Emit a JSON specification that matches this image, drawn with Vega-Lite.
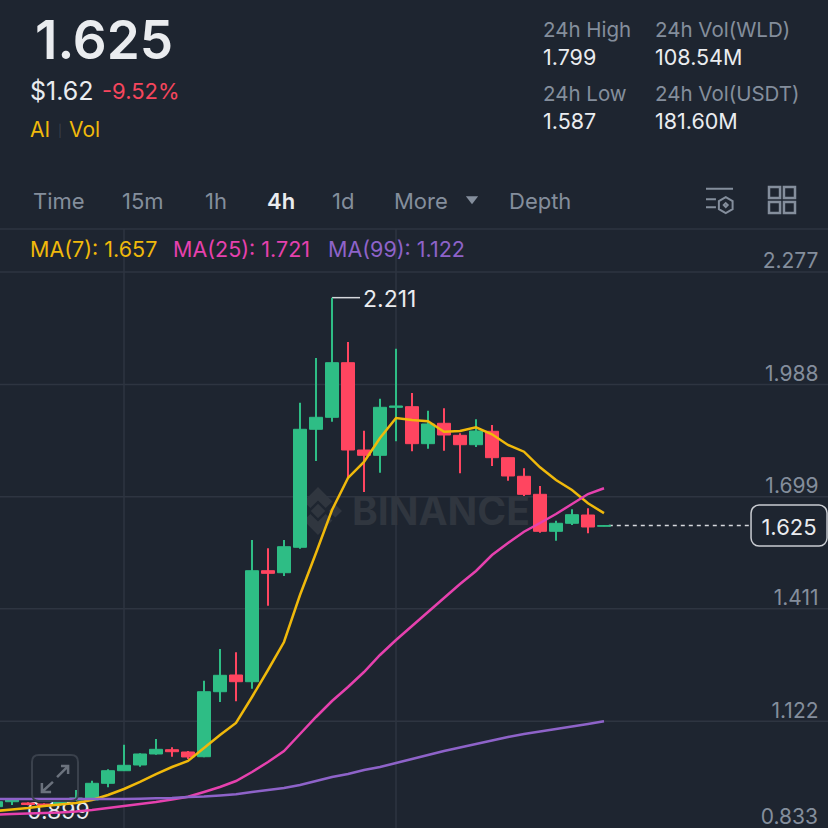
{
  "$schema": "https://vega.github.io/schema/vega-lite/v6.json",
  "width": 828,
  "height": 828,
  "autosize": "none",
  "padding": 0,
  "background": "#1E2530",
  "config": {"view": {"stroke": null}, "font": "Inter", "text": {"font": "Inter", "align": "left", "baseline": "middle", "dy": 2}},
  "resolve": {"axis": {"y": "independent"}},
  "datasets": {
    "candles": [
      {"n":0,"open":0.9023,"close":0.9151,"high":0.916,"low":0.900},
      {"n":1,"open":0.9151,"close":0.9195,"high":0.921,"low":0.9067},
      {"n":2,"open":0.9118,"close":0.9079,"high":0.914,"low":0.906},
      {"n":3,"open":0.9092,"close":0.9041,"high":0.911,"low":0.902},
      {"n":4,"open":0.9092,"close":0.9144,"high":0.918,"low":0.905},
      {"n":5,"open":0.9195,"close":0.9247,"high":0.9452,"low":0.917},
      {"n":6,"open":0.9195,"close":0.9624,"high":0.9691,"low":0.918},
      {"n":7,"open":0.9624,"close":0.9948,"high":0.9984,"low":0.9522},
      {"n":8,"open":0.9948,"close":1.0087,"high":1.0617,"low":0.994},
      {"n":9,"open":1.0095,"close":1.0378,"high":1.0396,"low":1.0051},
      {"n":10,"open":1.0378,"close":1.0498,"high":1.0763,"low":1.036},
      {"n":11,"open":1.0488,"close":1.0437,"high":1.055,"low":1.0308},
      {"n":12,"open":1.0429,"close":1.0301,"high":1.0455,"low":1.025},
      {"n":13,"open":1.0308,"close":1.1979,"high":1.2262,"low":1.0293},
      {"n":14,"open":1.1979,"close":1.2401,"high":1.3077,"low":1.1715},
      {"n":15,"open":1.2409,"close":1.2236,"high":1.2992,"low":1.1733},
      {"n":16,"open":1.2236,"close":1.509,"high":1.588,"low":1.2056},
      {"n":17,"open":1.509,"close":1.5023,"high":1.5666,"low":1.419},
      {"n":18,"open":1.5039,"close":1.5707,"high":1.588,"low":1.4954},
      {"n":19,"open":1.5692,"close":1.8726,"high":1.941,"low":1.5656},
      {"n":20,"open":1.8726,"close":1.9034,"high":2.0559,"low":1.7911},
      {"n":21,"open":1.9034,"close":2.0438,"high":2.211,"low":1.8921},
      {"n":22,"open":2.0438,"close":1.8193,"high":2.097,"low":1.7466},
      {"n":23,"open":1.8193,"close":1.8057,"high":1.869,"low":1.7114},
      {"n":24,"open":1.8057,"close":1.9291,"high":1.9513,"low":1.761},
      {"n":25,"open":1.9291,"close":1.9325,"high":2.0798,"low":1.8417},
      {"n":26,"open":1.9307,"close":1.8356,"high":1.9659,"low":1.816},
      {"n":27,"open":1.8356,"close":1.8862,"high":1.9204,"low":1.8227},
      {"n":28,"open":1.888,"close":1.8579,"high":1.9266,"low":1.8175},
      {"n":29,"open":1.8571,"close":1.833,"high":1.8623,"low":1.7594},
      {"n":30,"open":1.833,"close":1.8682,"high":1.8983,"low":1.8271},
      {"n":31,"open":1.8674,"close":1.7996,"high":1.8836,"low":1.7782},
      {"n":32,"open":1.7996,"close":1.7525,"high":1.7996,"low":1.7404},
      {"n":33,"open":1.7517,"close":1.7054,"high":1.7723,"low":1.7011},
      {"n":34,"open":1.7054,"close":1.6103,"high":1.7268,"low":1.6067},
      {"n":35,"open":1.6103,"close":1.6309,"high":1.6376,"low":1.5862},
      {"n":36,"open":1.6309,"close":1.653,"high":1.6669,"low":1.6265},
      {"n":37,"open":1.6522,"close":1.6214,"high":1.6695,"low":1.6052},
      {"n":38,"open":1.6232,"close":1.625,"high":1.626,"low":1.623}
    ],
    "averages": [
      {"n":0,"ma":"MA7","price":0.8912},{"n":1,"ma":"MA7","price":0.8951},{"n":2,"ma":"MA7","price":0.8989},{"n":3,"ma":"MA7","price":0.9041},{"n":4,"ma":"MA7","price":0.9079},{"n":5,"ma":"MA7","price":0.9118},{"n":6,"ma":"MA7","price":0.9195},{"n":7,"ma":"MA7","price":0.9324},{"n":8,"ma":"MA7","price":0.9478},{"n":9,"ma":"MA7","price":0.9658},{"n":10,"ma":"MA7","price":0.9863},{"n":11,"ma":"MA7","price":1.0043},{"n":12,"ma":"MA7","price":1.0198},{"n":13,"ma":"MA7","price":1.0532},{"n":14,"ma":"MA7","price":1.0866},{"n":15,"ma":"MA7","price":1.1175},{"n":16,"ma":"MA7","price":1.1843},{"n":17,"ma":"MA7","price":1.2537},{"n":18,"ma":"MA7","price":1.3257},{"n":19,"ma":"MA7","price":1.4466},{"n":20,"ma":"MA7","price":1.5545},{"n":21,"ma":"MA7","price":1.6651},{"n":22,"ma":"MA7","price":1.7474},{"n":23,"ma":"MA7","price":1.7885},{"n":24,"ma":"MA7","price":1.8502},{"n":25,"ma":"MA7","price":1.9016},{"n":26,"ma":"MA7","price":1.8965},{"n":27,"ma":"MA7","price":1.8931},{"n":28,"ma":"MA7","price":1.8664},{"n":29,"ma":"MA7","price":1.8682},{"n":30,"ma":"MA7","price":1.8777},{"n":31,"ma":"MA7","price":1.8597},{"n":32,"ma":"MA7","price":1.8322},{"n":33,"ma":"MA7","price":1.815},{"n":34,"ma":"MA7","price":1.7749},{"n":35,"ma":"MA7","price":1.7422},{"n":36,"ma":"MA7","price":1.7165},{"n":37,"ma":"MA7","price":1.6823},{"n":38,"ma":"MA7","price":1.657},
      {"n":0,"ma":"MA25","price":0.8822},{"n":1,"ma":"MA25","price":0.8835},{"n":2,"ma":"MA25","price":0.8848},{"n":3,"ma":"MA25","price":0.8861},{"n":4,"ma":"MA25","price":0.8873},{"n":5,"ma":"MA25","price":0.8899},{"n":6,"ma":"MA25","price":0.8938},{"n":7,"ma":"MA25","price":0.8989},{"n":8,"ma":"MA25","price":0.9041},{"n":9,"ma":"MA25","price":0.9092},{"n":10,"ma":"MA25","price":0.9144},{"n":11,"ma":"MA25","price":0.9208},{"n":12,"ma":"MA25","price":0.928},{"n":13,"ma":"MA25","price":0.9401},{"n":14,"ma":"MA25","price":0.9529},{"n":15,"ma":"MA25","price":0.9683},{"n":16,"ma":"MA25","price":0.9915},{"n":17,"ma":"MA25","price":1.0172},{"n":18,"ma":"MA25","price":1.0455},{"n":19,"ma":"MA25","price":1.0892},{"n":20,"ma":"MA25","price":1.1329},{"n":21,"ma":"MA25","price":1.174},{"n":22,"ma":"MA25","price":1.21},{"n":23,"ma":"MA25","price":1.2486},{"n":24,"ma":"MA25","price":1.2923},{"n":25,"ma":"MA25","price":1.3309},{"n":26,"ma":"MA25","price":1.3669},{"n":27,"ma":"MA25","price":1.4028},{"n":28,"ma":"MA25","price":1.4388},{"n":29,"ma":"MA25","price":1.4748},{"n":30,"ma":"MA25","price":1.5083},{"n":31,"ma":"MA25","price":1.5494},{"n":32,"ma":"MA25","price":1.5802},{"n":33,"ma":"MA25","price":1.6093},{"n":34,"ma":"MA25","price":1.6317},{"n":35,"ma":"MA25","price":1.6548},{"n":36,"ma":"MA25","price":1.6805},{"n":37,"ma":"MA25","price":1.7062},{"n":38,"ma":"MA25","price":1.721},
      {"n":0,"ma":"MA99","price":0.9221},{"n":1,"ma":"MA99","price":0.9221},{"n":2,"ma":"MA99","price":0.9221},{"n":3,"ma":"MA99","price":0.9221},{"n":4,"ma":"MA99","price":0.9221},{"n":5,"ma":"MA99","price":0.9221},{"n":6,"ma":"MA99","price":0.9221},{"n":7,"ma":"MA99","price":0.9221},{"n":8,"ma":"MA99","price":0.9221},{"n":9,"ma":"MA99","price":0.9229},{"n":10,"ma":"MA99","price":0.9239},{"n":11,"ma":"MA99","price":0.9247},{"n":12,"ma":"MA99","price":0.9273},{"n":13,"ma":"MA99","price":0.9286},{"n":14,"ma":"MA99","price":0.9312},{"n":15,"ma":"MA99","price":0.9342},{"n":16,"ma":"MA99","price":0.9401},{"n":17,"ma":"MA99","price":0.9452},{"n":18,"ma":"MA99","price":0.9503},{"n":19,"ma":"MA99","price":0.9581},{"n":20,"ma":"MA99","price":0.9683},{"n":21,"ma":"MA99","price":0.9786},{"n":22,"ma":"MA99","price":0.9863},{"n":23,"ma":"MA99","price":0.9966},{"n":24,"ma":"MA99","price":1.0043},{"n":25,"ma":"MA99","price":1.0146},{"n":26,"ma":"MA99","price":1.0249},{"n":27,"ma":"MA99","price":1.0352},{"n":28,"ma":"MA99","price":1.0455},{"n":29,"ma":"MA99","price":1.0545},{"n":30,"ma":"MA99","price":1.0635},{"n":31,"ma":"MA99","price":1.0725},{"n":32,"ma":"MA99","price":1.0815},{"n":33,"ma":"MA99","price":1.0892},{"n":34,"ma":"MA99","price":1.0956},{"n":35,"ma":"MA99","price":1.1021},{"n":36,"ma":"MA99","price":1.1085},{"n":37,"ma":"MA99","price":1.1149},{"n":38,"ma":"MA99","price":1.122}
    ],
    "labels": [
      {"kind":"headline","label":"1.625","n":2.4375,"price":2.8786},
      {"kind":"quote","label":"$1.62","n":2.125,"price":2.7449},
      {"kind":"change","label":"-9.52%","n":6.625,"price":2.7449},
      {"kind":"tag","label":"AI","n":2.125,"price":2.6446},
      {"kind":"tag","label":"Vol","n":4.5625,"price":2.6446},
      {"kind":"nav","label":"Time","n":2.3125,"price":2.4621},
      {"kind":"nav","label":"15m","n":7.875,"price":2.4621},
      {"kind":"nav","label":"1h","n":13.0625,"price":2.4621},
      {"kind":"navOn","label":"4h","n":16.9375,"price":2.4621},
      {"kind":"nav","label":"1d","n":21,"price":2.4621},
      {"kind":"nav","label":"More","n":24.875,"price":2.4621},
      {"kind":"nav","label":"Depth","n":32.0625,"price":2.4621},
      {"kind":"ma7","label":"MA(7): 1.657","n":2.125,"price":2.3361},
      {"kind":"ma25","label":"MA(25): 1.721","n":11.0625,"price":2.3361},
      {"kind":"ma99","label":"MA(99): 1.122","n":20.75,"price":2.3361},
      {"kind":"stat","label":"24h High","n":34.1875,"price":2.9017},
      {"kind":"stat","label":"24h Vol(WLD)","n":41.1875,"price":2.9017},
      {"kind":"stat","label":"24h Low","n":34.1875,"price":2.7372},
      {"kind":"stat","label":"24h Vol(USDT)","n":41.1875,"price":2.7372},
      {"kind":"value","label":"1.799","n":34.1875,"price":2.8298},
      {"kind":"value","label":"108.54M","n":41.1875,"price":2.8298},
      {"kind":"value","label":"1.587","n":34.1875,"price":2.6652},
      {"kind":"value","label":"181.60M","n":41.1875,"price":2.6652},
      {"kind":"extreme","label":"2.211","n":22.9375,"price":2.211},
      {"kind":"extreme","label":"0.899","n":1.9375,"price":0.8938}
    ]
  },
  "encoding": {
    "x": {"field": "n", "type": "quantitative", "scale": {"domain": [0.25, 52], "nice": false, "padding": 0}, "axis": null},
    "y": {"field": "price", "type": "quantitative", "scale": {"domain": [0.8475, 2.9763], "nice": false}, "axis": null}
  },
  "layer": [
    {
      "data": {"values": [{"price": 1.122, "n": 0.25, "n2": 52}, {"price": 1.411, "n": 0.25, "n2": 52}, {"price": 1.699, "n": 0.25, "n2": 52}, {"price": 1.988, "n": 0.25, "n2": 52}, {"price": 2.277, "n": 0.25, "n2": 52}, {"price": 2.3875, "n": 0.25, "n2": 52}]},
      "mark": {"type": "rule", "color": "#2E3541", "strokeWidth": 1.5},
      "encoding": {
        "x2": {"field": "n2"},
        "y": {
          "field": "price",
          "type": "quantitative",
          "axis": {
            "title": null,
            "orient": "right",
            "values": [1.122, 1.411, 1.699, 1.988, 2.277],
            "format": ".3f",
            "grid": false,
            "domain": false,
            "ticks": false,
            "labelAlign": "right",
            "labelBaseline": "alphabetic",
            "labelPadding": -10,
            "labelOffset": -4,
            "labelColor": "#848E9C",
            "labelFontSize": 21,
            "labelFont": "Inter",
            "labelOverlap": false,
            "labelBound": false,
            "labelFlush": false
          }
        }
      }
    },
    {
      "data": {"values": [{"n": 8, "price": 2.3875, "bottom": 0.8475}, {"n": 25, "price": 2.3875, "bottom": 0.8475}]},
      "mark": {"type": "rule", "color": "#2E3541", "strokeWidth": 1.5},
      "encoding": {"y2": {"field": "bottom"}}
    },
    {
      "data": {"values": [{"n": 20.125, "price": 1.6625}]},
      "mark": {"type": "point", "filled": true, "opacity": 1, "color": "#30363F", "size": 2304,
        "shape": "M0,-.3 L.3,0 L0,.3 L-.3,0 Z M.72,-.27 L1,0 L.72,.27 L.44,0 Z M-.72,-.27 L-.44,0 L-.72,.27 L-1,0 Z M0,-1 L.6,-.4 L.32,-.12 L0,-.44 L-.32,-.12 L-.6,-.4 Z M0,1 L-.6,.4 L-.32,.12 L0,.44 L.32,.12 L.6,.4 Z"}
    },
    {
      "data": {"values": [{"label": "BINANCE", "n": 22.25, "price": 1.6651}]},
      "mark": {"type": "text", "fontSize": 39, "fontWeight": 700, "color": "#30363F", "dy": 3},
      "encoding": {"text": {"field": "label"}}
    },
    {
      "data": {"values": [{"n": 38.3, "n2": 47.19, "price": 1.625}]},
      "mark": {"type": "rule", "color": "#D5D8DC", "strokeWidth": 1.5, "strokeDash": [4, 4]},
      "encoding": {"x2": {"field": "n2"}}
    },
    {
      "data": {"values": [{"n": 21, "n2": 22.75, "price": 2.211}]},
      "mark": {"type": "rule", "color": "#D5D8DC", "strokeWidth": 1.5},
      "encoding": {"x2": {"field": "n2"}}
    },
    {
      "data": {"name": "labels"},
      "transform": [{"filter": {"field": "label", "equal": "0.899"}}],
      "mark": {"type": "text", "fontSize": 23, "color": "#EAECEF"},
      "encoding": {"text": {"field": "label"}}
    },
    {
      "data": {"name": "candles"},
      "mark": {"type": "rule", "strokeWidth": 2},
      "encoding": {
        "y": {"field": "low", "type": "quantitative", "axis": null},
        "y2": {"field": "high"},
        "color": {"condition": {"test": "datum.close >= datum.open", "value": "#2EBD85"}, "value": "#FF4560"}
      }
    },
    {
      "data": {"name": "candles"},
      "mark": {"type": "bar", "size": 13, "strokeWidth": 1},
      "encoding": {
        "y": {"field": "open", "type": "quantitative", "axis": null},
        "y2": {"field": "close"},
        "color": {"condition": {"test": "datum.close >= datum.open", "value": "#2EBD85"}, "value": "#FF4560"},
        "stroke": {"condition": {"test": "datum.close >= datum.open", "value": "#2EBD85"}, "value": "#FF4560"}
      }
    },
    {
      "data": {"name": "averages"},
      "mark": {"type": "line", "strokeWidth": 2.5},
      "encoding": {
        "color": {"field": "ma", "type": "nominal", "legend": null,
          "scale": {"domain": ["MA7", "MA25", "MA99"], "range": ["#F0B90B", "#E641AE", "#8E63C9"]}},
        "order": {"field": "n"}
      }
    },
    {
      "data": {"values": [{"n": 47.19, "n2": 51.94, "price": 1.6779, "bottom": 1.5725}]},
      "mark": {"type": "rect", "fill": "#1E2530", "stroke": "#C9CCD1", "strokeWidth": 1.5, "cornerRadius": 8},
      "encoding": {"x2": {"field": "n2"}, "y2": {"field": "bottom"}}
    },
    {
      "data": {"values": [{"label": "1.625", "n": 49.5625, "price": 1.625}]},
      "mark": {"type": "text", "align": "center", "fontSize": 22, "color": "#EAECEF"},
      "encoding": {"text": {"field": "label"}}
    },
    {
      "data": {"values": [{"label": "0.833", "n": 51.375, "price": 0.879}]},
      "mark": {"type": "text", "align": "right", "fontSize": 21, "color": "#848E9C"},
      "encoding": {"text": {"field": "label"}}
    },
    {
      "data": {"values": [{"label": "|", "n": 4, "price": 2.6446}]},
      "mark": {"type": "text", "align": "center", "fontSize": 12, "color": "#3A414C"},
      "encoding": {"text": {"field": "label"}}
    },
    {
      "data": {"name": "labels"},
      "transform": [{"filter": {"field": "kind", "equal": "headline"}}],
      "mark": {"type": "text", "fontSize": 53, "fontWeight": 600, "color": "#EAECEF", "dy": 5},
      "encoding": {"text": {"field": "label"}}
    },
    {
      "data": {"name": "labels"},
      "transform": [{"filter": {"field": "kind", "equal": "quote"}}],
      "mark": {"type": "text", "fontSize": 25, "color": "#EAECEF"},
      "encoding": {"text": {"field": "label"}}
    },
    {
      "data": {"name": "labels"},
      "transform": [{"filter": {"field": "kind", "equal": "change"}}],
      "mark": {"type": "text", "fontSize": 22, "color": "#F6465D"},
      "encoding": {"text": {"field": "label"}}
    },
    {
      "data": {"name": "labels"},
      "transform": [{"filter": {"field": "kind", "equal": "tag"}}],
      "mark": {"type": "text", "fontSize": 21, "color": "#F0B90B"},
      "encoding": {"text": {"field": "label"}}
    },
    {
      "data": {"name": "labels"},
      "transform": [{"filter": {"field": "kind", "equal": "nav"}}],
      "mark": {"type": "text", "fontSize": 22, "color": "#848E9C"},
      "encoding": {"text": {"field": "label"}}
    },
    {
      "data": {"name": "labels"},
      "transform": [{"filter": {"field": "kind", "equal": "navOn"}}],
      "mark": {"type": "text", "fontSize": 22, "fontWeight": 600, "color": "#EAECEF"},
      "encoding": {"text": {"field": "label"}}
    },
    {
      "data": {"name": "labels"},
      "transform": [{"filter": {"field": "kind", "oneOf": ["ma7", "ma25", "ma99"]}}],
      "mark": {"type": "text", "fontSize": 21.5},
      "encoding": {
        "text": {"field": "label"},
        "fill": {"field": "kind", "type": "nominal", "legend": null,
          "scale": {"domain": ["ma7", "ma25", "ma99"], "range": ["#F0B90B", "#E641AE", "#8E63C9"]}}
      }
    },
    {
      "data": {"name": "labels"},
      "transform": [{"filter": {"field": "kind", "equal": "stat"}}],
      "mark": {"type": "text", "fontSize": 20.5, "color": "#848E9C"},
      "encoding": {"text": {"field": "label"}}
    },
    {
      "data": {"name": "labels"},
      "transform": [{"filter": {"field": "kind", "equal": "value"}}],
      "mark": {"type": "text", "fontSize": 21.5, "color": "#EAECEF"},
      "encoding": {"text": {"field": "label"}}
    },
    {
      "data": {"values": [{"label": "2.211", "n": 22.9375, "price": 2.211}]},
      "mark": {"type": "text", "fontSize": 23, "color": "#EAECEF"},
      "encoding": {"text": {"field": "label"}}
    },
    {
      "data": {"values": [{"n": 29.75, "price": 2.4621}]},
      "mark": {"type": "point", "filled": true, "opacity": 1, "color": "#848E9C", "size": 150, "shape": "M-1,-.6 L1,-.6 L0,.7 Z"}
    },
    {
      "data": {"values": [{"n": 45.25, "price": 2.4595}]},
      "mark": {"type": "point", "filled": false, "opacity": 1, "color": "#848E9C", "strokeWidth": 2, "size": 784,
        "shape": "M-1,-.88 L.93,-.88 M-1,-.12 L-.29,-.12 M-1,.45 L-.29,.45 M.41,-.28 L.9,0 L.9,.58 L.41,.86 L-.08,.58 L-.08,0 Z M.41,.15 L.55,.29 L.41,.43 L.27,.29 Z"}
    },
    {
      "data": {"values": [{"n": 49.125, "price": 2.4621}]},
      "mark": {"type": "point", "filled": false, "opacity": 1, "color": "#848E9C", "strokeWidth": 2.5, "size": 676,
        "shape": "M-1,-1 H-.15 V-.15 H-1 Z M.15,-1 H1 V-.15 H.15 Z M-1,.15 H-.15 V1 H-1 Z M.15,.15 H1 V1 H.15 Z"}
    },
    {
      "data": {"values": [{"n": 3.6875, "price": 0.9761}]},
      "mark": {"type": "point", "filled": false, "opacity": 1, "color": "#3A414C", "strokeWidth": 2, "size": 2116,
        "shape": "M-.7,-1 H.7 Q1,-1 1,-.7 V.7 Q1,1 .7,1 H-.7 Q-1,1 -1,.7 V-.7 Q-1,-1 -.7,-1 Z"}
    },
    {
      "data": {"values": [{"n": 3.6875, "price": 0.9761}]},
      "mark": {"type": "point", "filled": false, "opacity": 1, "color": "#6B727D", "strokeWidth": 2.5, "size": 2116,
        "shape": "M.09,-.04 L.57,-.52 M.26,-.52 L.57,-.52 L.57,-.17 M-.09,.17 L-.57,.61 M-.57,.22 L-.57,.61 L-.17,.61"}
    }
  ]
}
